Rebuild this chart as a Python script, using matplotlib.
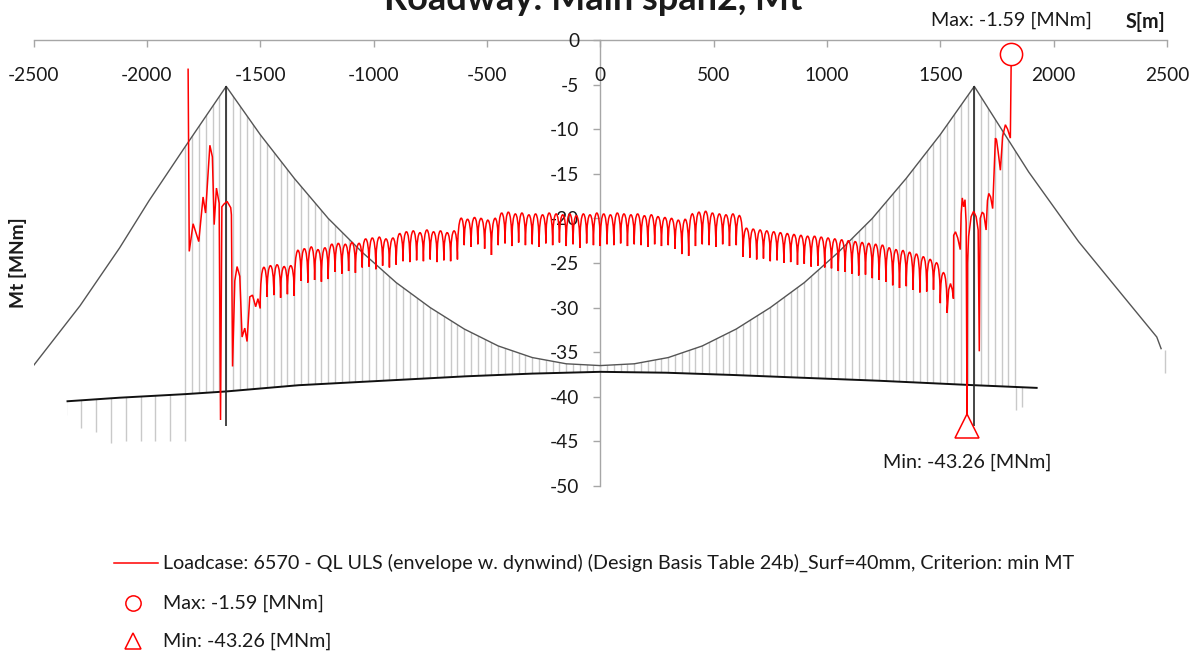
import numpy as np
import matplotlib
matplotlib.use("Agg")
import matplotlib.pyplot as plt
from matplotlib.path import Path
from matplotlib.patches import PathPatch, Polygon
from matplotlib.lines import Line2D

plt.rcParams["font.family"] = ["Lato", "DejaVu Sans"]
plt.rcParams["axes.unicode_minus"] = False

# ---------------------------------------------------------------- axes
x_ticks = [-2500, -2000, -1500, -1000, -500, 0, 500, 1000, 1500, 2000, 2500]
y_ticks = [0, -5, -10, -15, -20, -25, -30, -35, -40, -45, -50]

# ---------------------------------------------------------------- bridge geometry (S [m], drawn on the Mt scale)
tower_x = [-1650, 1650]
tower_top = [-5.2, -5.2]
tower_base = [-43.3, -43.3]

cable_x = [-2500, -2295, -2120, -1990, -1840, -1650, -1500, -1350, -1200, -1050,
           -900, -750, -600, -450, -300, -150, 0, 150, 300, 450, 600, 750, 900,
           1050, 1200, 1350, 1500, 1650, 1890, 2110, 2300, 2455, 2474]
cable_y = [-36.5, -29.8, -23.3, -18.0, -12.3, -5.2, -10.6, -15.5, -20.0, -23.8,
           -27.2, -30.0, -32.4, -34.3, -35.6, -36.3, -36.5, -36.3, -35.6, -34.3,
           -32.4, -30.0, -27.2, -23.8, -20.0, -15.5, -10.6, -5.2, -14.8, -22.6,
           -28.5, -33.3, -34.6]

deck_x = [-2350, -2120, -1830, -1650, -1330, -885, -590, -300, 0, 290, 581,
          877, 1229, 1650, 1925]
deck_y = [-40.5, -40.1, -39.7, -39.4, -38.7, -38.1, -37.7, -37.4, -37.2, -37.3,
          -37.55, -37.85, -38.2, -38.7, -39.0]

hanger_spacing = 30
hanger_x = np.arange(-1830, 1831, hanger_spacing)

pier_x = [-2358, -2292, -2226, -2160, -2094, -2028, -1962, -1896, -1830, 1832, 1861]
pier_bottom = [-42.0, -43.5, -43.9, -45.2, -44.9, -44.9, -44.9, -44.9, -44.9, -41.5, -41.1]

end_post_x = 2493
end_post_y = [-34.75, -37.3]

# ---------------------------------------------------------------- Mt envelope [MNm]
mt_max_x, mt_max = 1813, -1.59
mt_min_x, mt_min = 1618, -43.26

# irregular stretch at the west tower
west_x = [-1818, -1813, -1796, -1771, -1752, -1741, -1722, -1711, -1703, -1693,
          -1681, -1675, -1669, -1660, -1646, -1630, -1627, -1622, -1612, -1602,
          -1590, -1580, -1568, -1558, -1546, -1534, -1520, -1510, -1500]
west_y = [-3.2, -23.7, -20.6, -22.6, -17.6, -19.4, -11.8, -13.1, -20.7, -16.6,
          -18.3, -42.6, -18.7, -18.4, -18.1, -18.8, -19.6, -36.6, -27.0, -25.4,
          -26.5, -33.3, -32.3, -33.8, -28.8, -28.6, -29.9, -29.0, -30.1]

# hanger-to-hanger bays of the main span: value at each hanger and crest of each bay
node_x = np.arange(-1500, 1531, hanger_spacing)
node_mt = [
    -30.1, -28.8, -28.6, -28.9, -28.5, -28.7, -27.0, -27.2, -26.9, -27.1,
    -26.8, -26.0, -26.2, -25.9, -26.1, -25.5, -25.4, -25.7, -25.3, -25.5,
    -25.2, -24.8, -24.9, -24.7, -24.8, -24.6, -24.9, -24.7, -24.8, -24.6,
    -23.0, -23.2, -22.9, -23.4, -24.1, -23.0, -22.8, -23.1, -22.7, -23.0,
    -22.9, -23.2, -22.8, -23.0, -22.7, -23.1, -22.9, -23.3, -22.8, -23.0,
    -23.1, -22.9, -23.0, -22.8, -23.1, -22.9, -23.0, -23.2, -22.9, -23.1,
    -23.0, -23.4, -24.0, -24.2, -23.1, -22.9, -23.0, -23.2, -22.9, -23.1,
    -23.0, -24.3, -24.4, -24.6, -24.5, -24.8, -24.7, -25.0, -24.9, -25.2,
    -25.1, -25.4, -25.3, -25.5, -25.6, -25.9, -26.0, -26.2, -26.4, -26.3,
    -26.7, -26.9, -27.1, -27.5, -27.8, -27.6, -28.0, -28.3, -28.2, -28.0,
    -29.5, -30.6,
]
bay_crest_mt = [
    -25.5, -25.3, -25.2, -25.4, -25.3, -23.6, -23.4, -23.2, -23.5, -23.3,
    -22.9, -22.8, -22.9, -22.7, -22.8, -22.3, -22.2, -22.1, -22.3, -22.2,
    -21.7, -21.5, -21.4, -21.6, -21.3, -21.5, -21.4, -21.6, -21.4, -20.0,
    -20.1, -19.9, -20.0, -20.2, -20.0, -19.4, -19.3, -19.5, -19.4, -19.6,
    -19.5, -19.6, -19.4, -19.5, -19.6, -19.5, -19.7, -19.5, -19.6, -19.4,
    -19.5, -19.6, -19.4, -19.5, -19.6, -19.5, -19.7, -19.6, -19.8, -19.9,
    -20.0, -20.2, -20.1, -19.5, -19.3, -19.2, -19.4, -19.5, -19.6, -19.5,
    -19.7, -21.1, -21.2, -21.3, -21.4, -21.5, -21.6, -21.7, -21.8, -21.9,
    -22.0, -22.0, -22.1, -22.2, -22.3, -22.4, -22.5, -22.6, -22.7, -22.8,
    -22.9, -23.0, -23.3, -23.5, -23.6, -23.8, -24.0, -24.3, -24.6, -25.0,
    -26.1,
]

# irregular stretch at the east tower
east_x = [1537, 1545, 1553, 1558, 1559, 1567, 1577, 1588, 1592, 1597, 1603, 1609,
          1614, mt_min_x, 1620, 1625, 1636, 1647, 1658, 1667, 1672, 1676, 1685,
          1692, 1702, 1708, 1714, 1722, 1731, 1737, 1743, 1748, 1755, 1765, 1775,
          1787, 1797, 1809, mt_max_x]
east_y = [-28.0, -27.3, -28.0, -29.0, -21.9, -21.5, -22.2, -23.5, -19.5, -17.7,
          -18.7, -17.9, -20.5, mt_min, -25.0, -22.0, -19.8, -19.2, -19.8, -21.3,
          -34.9, -20.0, -19.3, -19.5, -21.3, -18.0, -17.2, -17.6, -18.9, -15.0,
          -11.0, -11.2, -12.5, -14.6, -10.8, -9.5, -10.0, -11.0, mt_max]

legend_line = ("Loadcase: 6570 - QL ULS (envelope w. dynwind) (Design Basis Table 24b)"
               "_Surf=40mm, Criterion: min MT")
max_label = f"Max: {mt_max:.2f} [MNm]"
min_label = f"Min: {mt_min:.2f} [MNm]"

# ---------------------------------------------------------------- styles
RED = "#ff0000"
AXIS_GREY = "#a6a6a6"
HANGER_GREY = "#c9c9c9"
TXT = "#1a1a1a"
FS_TICK = 13.8
FS = 14.2

W, H = 1194, 653
fig = plt.figure(figsize=(W / 100, H / 100), dpi=100)
ax = fig.add_axes([33.5 / W, 1 - 486 / H, (1167 - 33.5) / W, (486 - 40) / H])
ax.set_xlim(-2500, 2500)
ax.set_ylim(-50, 0)
ax.set_facecolor("none")

for side in ("right", "top"):
    ax.spines[side].set_visible(False)
ax.spines["bottom"].set_position(("data", 0))
ax.spines["left"].set_position(("data", 0))
for side in ("bottom", "left"):
    ax.spines[side].set_color(AXIS_GREY)
    ax.spines[side].set_linewidth(1.0)
    ax.spines[side].set_zorder(1)

ax.set_xticks(x_ticks)
ax.set_xticklabels([str(v) for v in x_ticks])
ax.set_yticks(y_ticks)
ax.set_yticklabels([str(v) for v in y_ticks])
ax.tick_params(axis="x", direction="out", length=5, width=1, color=AXIS_GREY,
               pad=14.5, labelsize=FS_TICK, labelcolor=TXT)
ax.tick_params(axis="y", direction="out", length=5, width=1, color=AXIS_GREY,
               pad=10, labelsize=FS_TICK, labelcolor=TXT)

# region between cable and deck: hangers are clipped to it
hull = Polygon(list(zip(cable_x, cable_y)) + list(zip(deck_x[::-1], deck_y[::-1])),
               closed=True, transform=ax.transData, facecolor="none", edgecolor="none")
ax.add_patch(hull)
hangers = ax.vlines(hanger_x, -48, 0, colors=HANGER_GREY, linewidth=1.0, zorder=2)
hangers.set_clip_path(hull)

# piers below the deck, clipped to the space under it
under = Polygon(list(zip(deck_x, deck_y)) + [(deck_x[-1], -50), (deck_x[0], -50)],
                closed=True, transform=ax.transData, facecolor="none", edgecolor="none")
ax.add_patch(under)
piers = ax.vlines(pier_x, -36, pier_bottom, colors=HANGER_GREY, linewidth=1.0, zorder=2)
piers.set_clip_path(under)
ax.vlines([end_post_x], end_post_y[0], end_post_y[1], colors=HANGER_GREY, linewidth=1.0, zorder=2)

ax.plot(cable_x, cable_y, color="#555555", linewidth=1.0, zorder=3)
ax.plot(deck_x, deck_y, color="#111111", linewidth=1.4, zorder=3)
ax.vlines(tower_x, tower_base, tower_top, colors="#262626", linewidth=1.2, zorder=3)

# Mt envelope: straight segments at the towers, hanger bays as arches between cusps
verts = [(west_x[0], west_y[0])]
codes = [Path.MOVETO]
for x, y in zip(west_x[1:], west_y[1:]):
    verts.append((x, y))
    codes.append(Path.LINETO)
for i, crest in enumerate(bay_crest_mt):
    x0, x1 = node_x[i], node_x[i + 1]
    t0, t1 = node_mt[i], node_mt[i + 1]
    h = 4.0 / 3.0 * (crest - (t0 + t1) / 8.0)
    verts += [(x0, h), (x1, h), (x1, t1)]
    codes += [Path.CURVE4] * 3
for x, y in zip(east_x, east_y):
    verts.append((x, y))
    codes.append(Path.LINETO)
ax.add_patch(PathPatch(Path(verts, codes), facecolor="none", edgecolor=RED,
                       linewidth=1.1, zorder=5, capstyle="butt", joinstyle="miter"))

ax.plot([mt_max_x], [mt_max], marker="o", markersize=16, markerfacecolor="white",
        markeredgecolor=RED, markeredgewidth=1.1, linestyle="none", zorder=6, clip_on=False)
ax.plot([mt_min_x], [mt_min], marker="^", markersize=17, markerfacecolor="white",
        markeredgecolor=RED, markeredgewidth=1.1, linestyle="none", zorder=6, clip_on=False)
ax.annotate(max_label, xy=(mt_max_x, mt_max), xytext=(0, 24.5), textcoords="offset points",
            ha="center", va="center", fontsize=FS, color=TXT, annotation_clip=False)
ax.annotate(min_label, xy=(mt_min_x, mt_min), xytext=(0, -26), textcoords="offset points",
            ha="center", va="center", fontsize=FS, color=TXT, annotation_clip=False)

# titles
fig.text(0.497, 1 - 9.5 / H, "Roadway: Main span2, Mt", ha="center", va="baseline",
         fontsize=26, fontweight="bold", color=TXT)
fig.text(1145 / W, 1 - 22 / H, "S[m]", ha="center", va="center", fontsize=FS,
         fontweight="bold", color=TXT)
fig.text(18 / W, 1 - 263 / H, "Mt [MNm]", ha="center", va="center", rotation=90,
         fontsize=13.8, fontweight="bold", color=TXT)

# legend
rows = [563, 603, 641]
fig.add_artist(Line2D([114 / W, 158 / W], [1 - rows[0] / H] * 2, color=RED,
                      linewidth=1.1, transform=fig.transFigure))
fig.add_artist(Line2D([133 / W], [1 - rows[1] / H], marker="o", markersize=11,
                      markerfacecolor="white", markeredgecolor=RED, markeredgewidth=1.1,
                      linestyle="none", transform=fig.transFigure))
fig.add_artist(Line2D([133 / W], [1 - rows[2] / H], marker="^", markersize=11,
                      markerfacecolor="white", markeredgecolor=RED, markeredgewidth=1.1,
                      linestyle="none", transform=fig.transFigure))
for row, label in zip(rows, [legend_line, max_label, min_label]):
    fig.text(163 / W, 1 - row / H, label, ha="left", va="center", fontsize=FS, color=TXT)

fig.savefig("out.png", dpi=100, facecolor="white")
